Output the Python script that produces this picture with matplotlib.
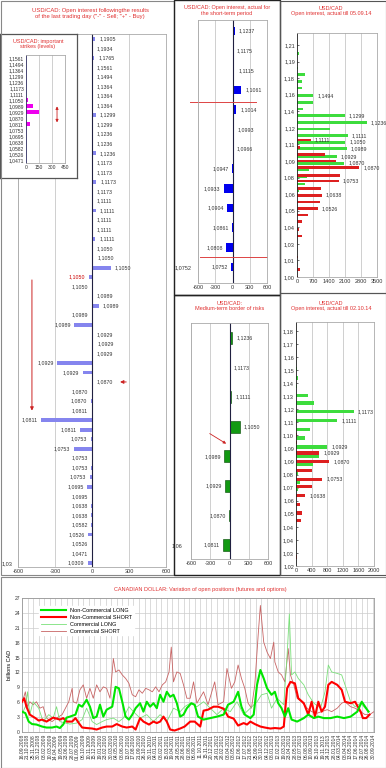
import numpy as np
import pandas as pd
import matplotlib
matplotlib.use('Agg')
import matplotlib.pyplot as plt
from matplotlib.patches import Rectangle

plt.rcParams['font.family'] = ['Liberation Sans', 'DejaVu Sans']
plt.rcParams['axes.unicode_minus'] = False

W, H = 386, 768
RED = '#e03030'

# ---------------- data ----------------
# open interest after the last trading day (- sell, + buy)
main_labels = ['1,1905', '1,1934', '1,1765', '1,1561', '1,1494', '1,1364', '1,1364', '1,1364',
               '1,1299', '1,1299', '1,1236', '1,1236', '1,1236', '1,1173', '1,1173', '1,1173',
               '1,1173', '1,1111', '1,1111', '1,1111', '1,1111', '1,1111', '1,1050', '1,1050',
               '1,1050', '1,1050', '1,1050', '1,0989', '1,0989', '1,0989', '1,0989', '1,0929',
               '1,0929', '1,0929', '1,0929', '1,0929', '1,0870', '1,0870', '1,0870', '1,0811',
               '1,0811', '1,0811', '1,0753', '1,0753', '1,0753', '1,0753', '1,0753', '1,0695',
               '1,0695', '1,0638', '1,0638', '1,0582', '1,0526', '1,0526', '1,0471', '1,0309']
main_vals = [25, 3, 20, 3, 3, 3, 3, 5,
             30, 3, 3, 3, 30, 3, 3, 35,
             3, 3, 30, 3, 3, 25, 3, 8,
             150, -25, -3, 5, 55, -3, -145, 5,
             8, 5, -280, -75, 5, -3, -12, -3,
             -410, -95, -12, -150, -3, -8, -20, -40,
             -3, -6, -5, -6, -30, -3, -3, -35]
main_red_label = 25

inset_labels = ['1,1561', '1,1494', '1,1364', '1,1299', '1,1236', '1,1173', '1,1111', '1,1050',
                '1,0989', '1,0929', '1,0870', '1,0811', '1,0753', '1,0695', '1,0638', '1,0582',
                '1,0526', '1,0471']
inset_vals = [3, 3, 3, 3, 3, 3, 3, 20, 75, 145, 3, 45, 3, 3, 3, 3, 3, 3]

short_labels = ['1,1237', '1,1175', '1,1115', '1,1061', '1,1014', '1,0993', '1,0966',
                '1,0947', '1,0933', '1,0904', '1,0861', '1,0808', '1,0752']
short_vals = [35, 5, 25, 150, 60, 8, 5, -10, -150, -90, -10, -110, -30]

mid_labels = ['1,1236', '1,1173', '1,1111', '1,1050', '1,0989', '1,0929', '1,0870', '1,0811']
mid_vals = [40, 5, 30, 160, -85, -70, -5, -95]

# open interest till 05.09.14
oi1_ticklabels = ['1,00', '1,01', '1,03', '1,04', '1,05', '1,06', '1,08', '1,09',
                  '1,11', '1,12', '1,14', '1,16', '1,18', '1,19', '1,21']
oi1_call_levels = [1.202, 1.189, 1.183, 1.177, 1.171, 1.164, 1.158, 1.152, 1.146, 1.140,
                   1.134, 1.128, 1.122, 1.116, 1.109, 1.103, 1.097, 1.091, 1.084, 1.078]
oi1_call_vals = [100, 60, 350, 230, 200, 700, 700, 270, 2090, 3050,
                 1450, 2210, 2120, 2170, 1740, 2060, 545, 420, 350, 70]
oi1_call_text = ['', '', '', '', '', '1,1494', '', '', '1,1299', '1,1236',
                 '', '1,1111', '1,1050', '1,0989', '1,0929', '1,0870', '', '', '', '']
oi1_put_levels = [1.124, 1.117, 1.111, 1.105, 1.099, 1.092, 1.087, 1.080, 1.074, 1.068,
                  1.062, 1.056, 1.050, 1.043, 1.037, 1.018, 1.007, 1.000]
oi1_put_vals = [600, 120, 1230, 1710, 2730, 1860, 1820, 1030, 1075, 985,
                910, 500, 210, 70, 240, 40, 150, 30]
oi1_put_text = ['1,1111', '', '', '', '1,0870', '', '1,0753', '', '1,0638', '',
                '1,0526', '', '', '', '', '', '', '']

# open interest till 02.10.14
oi2_ticklabels = ['1,02', '1,03', '1,04', '1,04', '1,05', '1,06', '1,07', '1,08', '1,09', '1,09',
                  '1,10', '1,11', '1,12', '1,13', '1,14', '1,15', '1,16', '1,17', '1,18']
oi2_call_levels = [1.154, 1.148, 1.142, 1.136, 1.131, 1.125, 1.119, 1.113, 1.107, 1.101,
                   1.095, 1.089, 1.083, 1.077, 1.072]
oi2_call_vals = [30, 40, 20, 295, 470, 1480, 1060, 360, 235, 800, 590, 445, 45, 100, 40]
oi2_call_text = ['', '', '', '', '', '1,1173', '1,1111', '', '', '1,0929', '', '', '', '', '']
oi2_put_levels = [1.109, 1.104, 1.097, 1.091, 1.085, 1.079, 1.074, 1.068, 1.062, 1.056,
                  1.051, 1.026]
oi2_put_vals = [30, 30, 595, 855, 400, 675, 400, 230, 100, 160, 120, 20]
oi2_put_text = ['', '', '1,0929', '1,0870', '', '1,0753', '', '1,0638', '', '', '', '']

# CFTC positions, billions CAD (x = weeks since first report)
cot_start = '2008-09-16'
nc_long_w = [0, 3, 6, 9, 13, 18, 22, 27, 31, 34, 37, 40, 43, 48, 51, 54, 58, 61, 64, 67,
             70, 73, 76, 81, 84, 87, 90, 93, 96, 99, 102, 106, 109, 112, 115, 118, 121, 124,
             127, 130, 133, 136, 139, 142, 145, 148, 152, 155, 158, 163, 169, 175, 181, 185,
             190, 194, 197, 200, 205, 208, 211, 214, 217, 220, 224, 227, 230, 233, 236, 239,
             242, 247, 253, 257, 262, 266, 271, 277, 283, 289, 295, 301, 305, 308, 311]
nc_long_v = [4.1, 3.8, 2.1, 1.6, 1.5, 1.1, 0.9, 0.9, 1.1, 0.8, 1.5, 2.9, 3.1, 3.5, 5.5, 5.1,
             6.5, 5.1, 2.8, 3.1, 5.5, 3.1, 4.5, 5.1, 9.1, 8.8, 6.1, 3.1, 2.5, 3.5, 4.8, 5.8,
             4.1, 6.1, 5.1, 5.8, 4.8, 7.5, 6.1, 8.1, 7.1, 7.5, 5.8, 3.1, 3.5, 4.8, 5.8, 5.5,
             3.1, 2.5, 2.8, 3.1, 3.5, 5.5, 6.1, 8.1, 5.1, 3.5, 2.8, 3.5, 9.5, 12.5, 10.8, 8.8,
             7.5, 8.1, 5.8, 4.8, 3.1, 4.8, 2.5, 2.1, 2.8, 3.5, 2.8, 3.1, 2.8, 2.8, 3.1, 2.8,
             3.1, 4.1, 6.1, 5.1, 4.1]
nc_short_w = [0, 2, 4, 7, 12, 15, 18, 22, 25, 28, 31, 34, 37, 40, 45, 48, 51, 54, 58, 63,
              67, 72, 76, 81, 85, 90, 94, 99, 102, 106, 109, 114, 118, 121, 124, 127, 130,
              133, 137, 142, 146, 151, 155, 160, 163, 167, 172, 176, 181, 185, 190, 194, 199,
              202, 205, 209, 214, 218, 223, 227, 232, 235, 238, 241, 245, 248, 253, 257, 260,
              263, 266, 269, 272, 275, 278, 283, 287, 290, 295, 299, 304, 306, 309, 312]
nc_short_v = [6.1, 6.8, 5.1, 3.5, 2.8, 2.3, 2.5, 2.1, 2.5, 2.9, 2.7, 2.5, 2.8, 2.1, 2.1, 2.8,
              1.8, 0.9, 0.8, 0.7, 0.5, 0.9, 1.1, 1.1, 1.6, 1.1, 0.9, 1.1, 0.5, 2.8, 2.1, 1.5,
              2.1, 1.8, 2.1, 3.1, 2.1, 0.5, 0.3, 0.7, 1.1, 2.1, 2.1, 1.1, 4.3, 4.5, 5.1, 5.1,
              4.7, 3.1, 2.7, 1.3, 1.8, 1.5, 2.1, 1.6, 1.1, 0.9, 0.7, 0.8, 0.7, 1.1, 8.8, 10.1,
              9.8, 6.8, 5.8, 3.5, 6.1, 3.1, 6.1, 4.1, 5.1, 9.5, 10.1, 9.5, 8.5, 6.1, 5.8, 6.1,
              4.1, 2.8, 2.8, 3.5]
c_long_w = [0, 3, 5, 7, 10, 15, 19, 24, 28, 31, 34, 39, 43, 49, 54, 58, 63, 67, 72, 76, 82,
            87, 91, 96, 100, 106, 112, 118, 124, 130, 136, 142, 146, 151, 157, 163, 169, 175,
            181, 187, 193, 199, 205, 211, 215, 220, 224, 229, 235, 238, 240, 242, 245, 248,
            253, 257, 262, 268, 272, 275, 278, 283, 287, 290, 295, 299, 304, 308, 312]
c_long_v = [3.6, 5.1, 8.1, 3.5, 6.1, 4.8, 2.1, 3.5, 2.8, 5.1, 2.1, 1.8, 1.6, 1.8, 2.5, 4.8,
            2.1, 1.5, 2.1, 2.5, 2.8, 2.1, 2.8, 5.1, 4.1, 2.8, 3.5, 2.1, 3.5, 2.1, 4.8, 4.1,
            5.1, 5.8, 5.1, 6.1, 4.8, 3.5, 4.8, 4.1, 6.1, 3.5, 4.8, 6.1, 7.5, 7.8, 4.8, 6.8,
            5.5, 15.5, 23.8, 11.5, 12.1, 10.8, 9.5, 7.5, 5.8, 4.8, 8.1, 13.5, 12.1, 11.8,
            11.5, 9.5, 6.1, 5.1, 5.8, 4.8, 4.1]
c_short_w = [0, 3, 5, 7, 10, 13, 16, 19, 22, 27, 31, 36, 39, 42, 45, 46, 49, 52, 55, 58, 61,
             64, 67, 70, 73, 76, 79, 82, 84, 87, 90, 93, 96, 99, 102, 105, 108, 111, 114, 117,
             120, 123, 126, 129, 132, 134, 136, 139, 142, 145, 148, 151, 154, 157, 163, 167,
             173, 176, 181, 184, 188, 191, 194, 197, 200, 203, 206, 209, 212, 214, 217, 220,
             223, 226, 227, 230, 233, 236, 239, 241, 244, 247, 251, 256, 260, 265, 269, 274,
             278, 283, 287, 290, 295, 299, 304, 308, 312, 316]
c_short_v = [5.8, 8.1, 5.1, 6.1, 5.5, 6.1, 4.8, 5.1, 2.8, 2.1, 2.8, 3.5, 4.8, 6.1, 8.8, 6.1,
             5.8, 8.5, 9.5, 6.8, 8.8, 6.8, 9.5, 8.1, 9.1, 8.8, 6.8, 14.8, 12.1, 12.5, 11.5,
             10.8, 9.8, 7.5, 7.1, 8.5, 7.8, 8.8, 8.5, 8.1, 9.1, 8.1, 9.5, 10.1, 12.1, 17.1,
             10.1, 12.1, 11.8, 9.5, 6.8, 6.8, 10.1, 5.8, 8.1, 5.5, 10.1, 5.5, 6.1, 12.8, 8.8,
             10.1, 13.5, 10.8, 8.8, 5.8, 4.8, 9.5, 19.5, 25.5, 18.1, 16.1, 14.8, 18.1, 14.1,
             12.1, 11.5, 10.1, 16.8, 11.5, 9.5, 6.8, 6.1, 4.8, 4.1, 3.8, 4.1, 4.5, 4.1, 4.8,
             5.8, 6.1, 5.1, 4.8, 4.1, 3.5, 3.5, 4.1]


# ---------------- helpers ----------------
def pax(x0, y0, x1, y1, **kw):
    return fig.add_axes([x0 / W, 1 - y1 / H, (x1 - x0) / W, (y1 - y0) / H], **kw)


def frame(x0, y0, x1, y1, ec='#444444', lw=0.8):
    fig.patches.append(Rectangle((x0 / W, 1 - y1 / H), (x1 - x0) / W, (y1 - y0) / H,
                                 transform=fig.transFigure, fill=False, ec=ec, lw=lw, zorder=20))


def ftext(x, y, s, **kw):
    fig.text(x / W, 1 - y / H, s, ha='center', va='center', color=RED,
             linespacing=1.1, **kw)


def style(ax, fs=4):
    ax.tick_params(labelsize=fs, length=0, pad=1.5, colors='#333333')
    for s in ax.spines.values():
        s.set_color('#aaaaaa')
        s.set_linewidth(0.6)
    ax.grid(axis='x', color='#c8c8c8', lw=0.6)
    ax.set_axisbelow(True)


def strike_bars(ax, vals, labels, color, height, edge=None, redidx=None):
    n = len(vals)
    y = np.arange(n)
    ax.barh(y, vals, height=height, color=color, ec=edge, lw=0.4 if edge else 0)
    ax.axvline(0, color='#202040', lw=0.8)
    for i, (v, t) in enumerate(zip(vals, labels)):
        c = '#cc0000' if i == redidx else '#333333'
        if v >= 0:
            ax.annotate(t, (v, i), xytext=(3, 0), textcoords='offset points',
                        ha='left', va='center', fontsize=3.8, color=c)
        else:
            ax.annotate(t, (v, i), xytext=(-2.5, 0), textcoords='offset points',
                        ha='right', va='center', fontsize=3.8, color=c)
    ax.set_xlim(-600, 600)
    ax.set_xticks([-600, -300, 0, 300, 600])


def oi_bars(ax, cl, cv, ct, pl, pv, pt, xmax, xt, ylo, yhi, yt, ytl):
    ax.barh(cl, cv, height=0.0024, color='#3ddc3d')
    ax.barh(pl, pv, height=0.0024, color='#dd2020')
    for lv, v, t in list(zip(cl, cv, ct)) + list(zip(pl, pv, pt)):
        if t:
            ax.annotate(t, (v, lv), xytext=(3, 0), textcoords='offset points',
                        ha='left', va='center', fontsize=3.8, color='#333333')
    ax.set_xlim(0, xmax)
    ax.set_xticks(xt)
    ax.set_ylim(ylo, yhi)
    ax.set_yticks(yt)
    ax.set_yticklabels(ytl)
    style(ax)
    ax.tick_params(axis='y', length=1.5, direction='in', width=0.5)
    ax.spines['left'].set_color('#222222')


fig = plt.figure(figsize=(W / 100, H / 100), dpi=100)

# ---------------- main chart ----------------
ax = pax(18, 34, 166, 567)
strike_bars(ax, main_vals, main_labels, '#8585ee', 0.4, redidx=main_red_label)
n = len(main_vals)
ax.set_ylim(n - 1 + 0.42, -0.52)
ax.set_yticks([n - 1])
ax.set_yticklabels(['1,03'])
style(ax)
ax.tick_params(axis='y', pad=4)
ax.annotate('', xy=(-487, 39.3), xytext=(-487, 25),
            arrowprops=dict(arrowstyle='-|>', color='#cc2222', lw=0.7, mutation_scale=5))
ax.annotate('', xy=(205, 36), xytext=(300, 36),
            arrowprops=dict(arrowstyle='-|>', color='#cc2222', lw=0.7, mutation_scale=5))
ftext(90, 13.5, 'USD/CAD: Open interest followingthe results\n'
      'of the last trading day ("-" - Sell; "+" - Buy)', fontsize=4.2)

# inset: important strikes
bg = pax(0, 34, 77, 178, zorder=5)
bg.set_xticks([])
bg.set_yticks([])
for s in bg.spines.values():
    s.set_color('#555555')
    s.set_linewidth(0.9)
iax = pax(26, 55, 65, 163, zorder=6)
iax.barh(np.arange(len(inset_vals)), inset_vals, height=0.6, color='#ee00ee')
iax.set_ylim(len(inset_vals) - 0.5, -0.5)
iax.set_xlim(0, 450)
iax.set_xticks([0, 150, 300, 450])
iax.set_yticks(np.arange(len(inset_labels)))
iax.set_yticklabels(inset_labels)
style(iax, 3.6)
iax.spines['left'].set_color('#333366')
iax.annotate('', xy=(358, 7.6), xytext=(358, 11.2),
             arrowprops=dict(arrowstyle='<|-|>', color='#cc2222', lw=0.6, mutation_scale=4))
fig.text(38 / W, 1 - 44 / H, 'USD/CAD: important\nstrikes (levels)', ha='center', va='center',
         color=RED, fontsize=4, linespacing=1.1, zorder=7)

# ---------------- short-term panel ----------------
ax2 = pax(198, 20, 267, 283)
strike_bars(ax2, short_vals, short_labels, '#0000ee', 0.45)
ax2.set_ylim(12.81, -0.56)
ax2.set_yticks([12])
ax2.set_yticklabels(['1,0752'])
style(ax2)
ax2.tick_params(axis='y', pad=5)
ax2.plot([-745, 416], [3.6, 3.6], color='#dd4444', lw=0.7, clip_on=False)
ax2.plot([-572, 600], [11.5, 11.5], color='#dd4444', lw=0.7, clip_on=False)
ftext(227, 10.5, 'USD/CAD: Open interest, actual for\nthe short-term period', fontsize=4)

# ---------------- medium-term panel ----------------
ax4 = pax(191, 323, 268, 559)
strike_bars(ax4, mid_vals, mid_labels, '#129912', 0.4, edge='#004400')
ax4.set_ylim(7.47, -0.51)
ax4.set_yticks([7])
ax4.set_yticklabels(['1,06'])
style(ax4)
ax4.tick_params(axis='y', pad=6)
ax4.annotate('', xy=(-15, 3.62), xytext=(-345, 3.18),
             arrowprops=dict(arrowstyle='-|>', color='#cc2222', lw=0.6, mutation_scale=4))
ftext(230, 306, 'USD/CAD:\nMedium-term border of risks', fontsize=4)

# ---------------- open interest panels ----------------
ax3 = pax(297, 33, 377, 277)
oi_bars(ax3, oi1_call_levels, oi1_call_vals, oi1_call_text,
        oi1_put_levels, oi1_put_vals, oi1_put_text,
        3500, [0, 700, 1400, 2100, 2800, 3500], 1.0, 1.2208,
        np.linspace(1.00, 1.21, len(oi1_ticklabels)), oi1_ticklabels)
ftext(331, 11, 'USD/CAD\nOpen interest, actual till 05.09.14', fontsize=4)

ax5 = pax(296, 322, 374, 566)
oi_bars(ax5, oi2_call_levels, oi2_call_vals, oi2_call_text,
        oi2_put_levels, oi2_put_vals, oi2_put_text,
        2000, [0, 400, 800, 1200, 1600, 2000], 1.02, 1.186,
        np.linspace(1.02, 1.18, len(oi2_ticklabels)), oi2_ticklabels)
ftext(331, 306, 'USD/CAD\nOpen interest, actual till 02.10.14', fontsize=4)

# ---------------- CFTC positions ----------------
axb = pax(22, 598, 374, 732)
start = pd.Timestamp(cot_start)
wk = pd.Timedelta(days=7)
axb.plot([start + w * wk for w in c_short_w], c_short_v, color='#c86464', lw=0.6,
         label='Commercial SHORT', zorder=2)
axb.plot([start + w * wk for w in c_long_w], c_long_v, color='#7ae07a', lw=0.6,
         label='Commercial LONG', zorder=2)
axb.plot([start + w * wk for w in nc_short_w], nc_short_v, color='#ff0000', lw=1.5,
         label='Non-Commercial SHORT', zorder=3)
axb.plot([start + w * wk for w in nc_long_w], nc_long_v, color='#00e600', lw=1.5,
         label='Non-Commercial LONG', zorder=4)
date_ticks = pd.date_range(start, start + 316 * wk, freq='35D')
axb.set_xticks(date_ticks)
axb.set_xticklabels([d.strftime('%d.%m.%Y') for d in date_ticks], rotation=90)
axb.set_xlim(start, start + 316 * wk)
axb.set_ylim(0, 27)
axb.set_yticks(range(0, 28, 3))
axb.tick_params(labelsize=3.6, length=0, pad=1.5, colors='#333333')
axb.grid(color='#cccccc', lw=0.5)
for s in axb.spines.values():
    s.set_color('#999999')
    s.set_linewidth(0.6)
axb.set_ylabel('billions CAD', fontsize=4, labelpad=2)
h, l = axb.get_legend_handles_labels()
order = [3, 2, 1, 0]
leg = axb.legend([h[i] for i in order], [l[i] for i in order], loc='upper left',
                 bbox_to_anchor=(0.04, 0.96), fontsize=4, frameon=True, fancybox=False,
                 framealpha=1, edgecolor='white', handlelength=4.5,
                 labelspacing=0.35, borderpad=0.3)
leg.set_zorder(10)
ftext(200, 589, 'CANADIAN DOLLAR: Variation of open positions (futures and options)',
      fontsize=4)

# ---------------- panel frames ----------------
frame(0.5, 0.5, 174, 575, ec='#888888')
frame(174, 0.5, 280, 295, ec='#222222', lw=1.0)
frame(174, 295, 280, 575, ec='#222222', lw=1.0)
frame(280, 0.5, 385.5, 293, ec='#555555')
frame(280, 293, 385.5, 575, ec='#555555')
frame(0.5, 577, 385.5, 767.5, ec='#888888')

fig.savefig('out.png', dpi=100)
